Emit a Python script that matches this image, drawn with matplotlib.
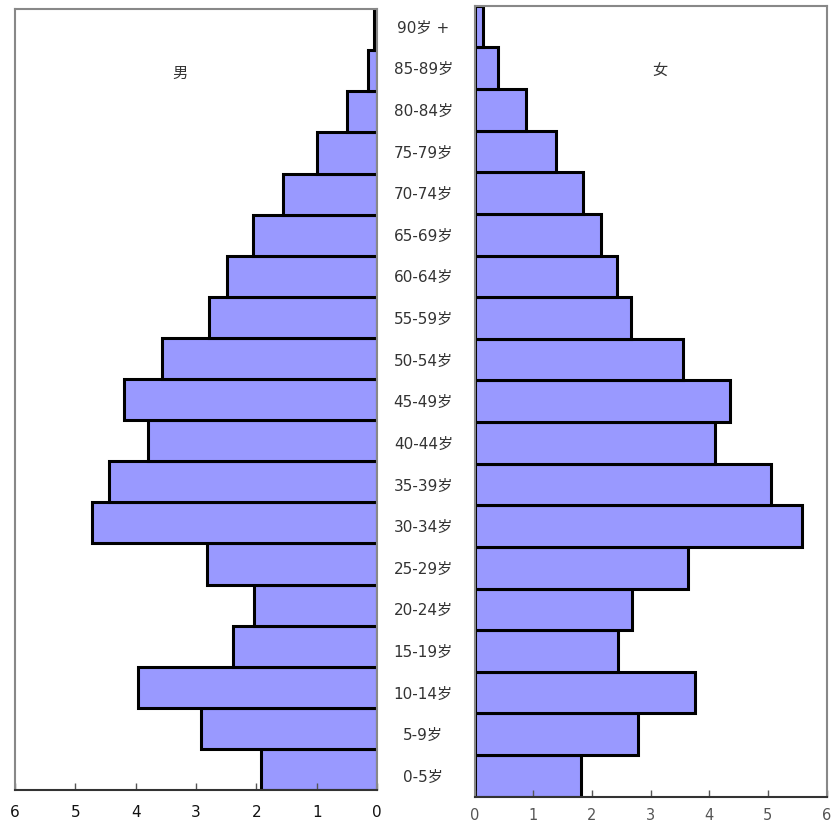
import matplotlib
matplotlib.use('Agg')
import matplotlib.pyplot as plt

plt.rcParams['font.family'] = ['DejaVu Sans', 'Noto Sans CJK SC']

# Grupos de edad, de abajo hacia arriba
edades = ['0-5岁', '5-9岁', '10-14岁', '15-19岁', '20-24岁', '25-29岁', '30-34岁',
          '35-39岁', '40-44岁', '45-49岁', '50-54岁', '55-59岁', '60-64岁',
          '65-69岁', '70-74岁', '75-79岁', '80-84岁', '85-89岁', '90岁 +']

# Porcentajes
hombres = [1.92, 2.91, 3.96, 2.39, 2.04, 2.81, 4.73, 4.44, 3.80, 4.20,
           3.56, 2.79, 2.49, 2.06, 1.55, 1.00, 0.50, 0.15, 0.05]
mujeres = [1.82, 2.79, 3.75, 2.44, 2.69, 3.64, 5.58, 5.06, 4.10, 4.35,
           3.55, 2.66, 2.42, 2.15, 1.84, 1.38, 0.87, 0.40, 0.14]

x_ticks = [0, 1, 2, 3, 4, 5, 6]

color_barra = '#9999ff'
y = list(range(len(edades)))

fig = plt.figure(figsize=(8.33, 8.36), dpi=100)
ax_h = fig.add_axes([0.018, 0.055, 0.4346, 0.934])
ax_m = fig.add_axes([0.570, 0.047, 0.4222, 0.946])

# Panel izquierdo: hombres
ax_h.barh(y, hombres, height=1.0, color=color_barra, edgecolor='black', linewidth=2.2)
ax_h.set_xlim(6, 0)
ax_h.set_ylim(-0.5, len(edades) - 0.5)
ax_h.set_yticks([])
ax_h.set_xticks(x_ticks)
ax_h.tick_params(axis='x', direction='in', length=5, width=1, color='#555555',
                 labelsize=11, labelcolor='#111111', pad=11)
ax_h.text(0.456, 0.918, '男', transform=ax_h.transAxes, ha='center', va='center',
          fontsize=11, color='#333333', family=['Noto Sans CJK SC'])

# Panel derecho: mujeres
ax_m.barh(y, mujeres, height=1.0, color=color_barra, edgecolor='black', linewidth=2.2)
ax_m.set_xlim(0, 6)
ax_m.set_ylim(-0.5, len(edades) - 0.5)
ax_m.set_xticks(x_ticks)
ax_m.tick_params(axis='x', direction='in', length=5, width=1, color='#555555',
                 labelsize=10.5, labelcolor='#555555', pad=8)
ax_m.set_yticks(y)
ax_m.set_yticklabels(edades, ha='center', fontsize=11, color='#333333')
ax_m.tick_params(axis='y', length=0, pad=37)
ax_m.text(0.526, 0.917, '女', transform=ax_m.transAxes, ha='center', va='center',
          fontsize=11, color='#333333', family=['Noto Sans CJK SC'])

for ax in (ax_h, ax_m):
    for lado in ['top', 'left', 'right']:
        ax.spines[lado].set_color('#888888')
        ax.spines[lado].set_linewidth(1.5)
    ax.spines['bottom'].set_color('#333333')
    ax.spines['bottom'].set_linewidth(1.5)

fig.savefig('out.png', dpi=100, facecolor='white')
